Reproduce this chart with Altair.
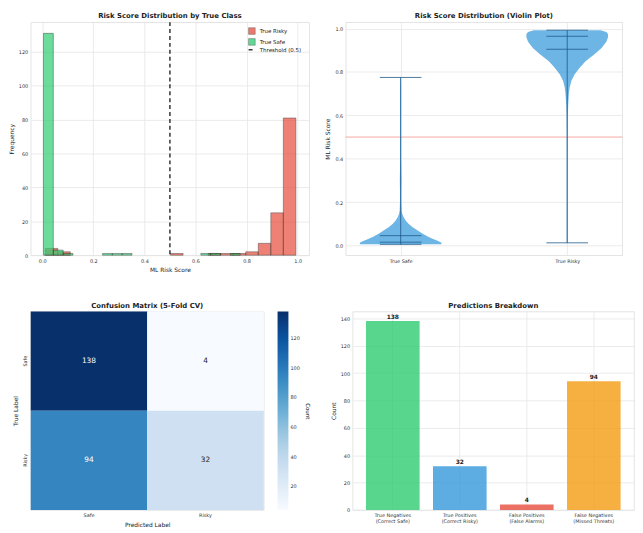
import altair as alt
import numpy as np
import pandas as pd

FONT = "DejaVu Sans"

# ---------------- Panel 1: histogram by true class ----------------
hist_classes = ["True Risky", "True Safe"]
safe_min, safe_max = 0.005, 0.775
risky_min, risky_max = 0.012, 0.993
n_bins = 20
safe_counts = [131, 3, 1, 0, 0, 0, 1, 1, 1, 0, 0, 0, 0, 0, 0, 0, 1, 1, 0, 1]
risky_counts = [4, 2, 0, 0, 0, 0, 0, 0, 0, 0, 1, 0, 0, 1, 1, 1, 2, 7, 25, 81]
threshold = 0.5
threshold_label = "Threshold (0.5)"

rows = []
for cls, lo, hi, counts in [("True Risky", risky_min, risky_max, risky_counts),
                            ("True Safe", safe_min, safe_max, safe_counts)]:
    edges = np.linspace(lo, hi, n_bins + 1)
    for i, c in enumerate(counts):
        if c > 0:
            rows.append({"cls": cls, "lo": edges[i], "hi": edges[i + 1], "count": c})
hist_df = pd.DataFrame(rows)
thr_df = pd.DataFrame({"x": [threshold], "cls": [threshold_label]})

H_W, H_H = 282, 236
hx = alt.Scale(domain=[-0.045, 1.045], nice=False, zero=False)
hy = alt.Scale(domain=[0, 137.6], nice=False)
hx_axis = alt.Axis(values=[0, 0.2, 0.4, 0.6, 0.8, 1.0], format=".1f")
leg_common = dict(title=None, orient="none", padding=2, labelFontSize=5.5, symbolSize=45,
                  labelColor="#222", legendX=H_W - 64)
bars = alt.Chart(hist_df).mark_bar(opacity=0.7, stroke="black", strokeWidth=0.5).encode(
    x=alt.X("lo:Q", scale=hx, title="ML Risk Score", axis=hx_axis),
    x2="hi:Q",
    y=alt.Y("count:Q", scale=hy, title="Frequency",
            axis=alt.Axis(values=[0, 20, 40, 60, 80, 100, 120])),
    y2=alt.datum(0),
    color=alt.Color("cls:N", scale=alt.Scale(domain=hist_classes, range=["#e74c3c", "#2ecc71"]),
                    legend=alt.Legend(symbolType="square", symbolStrokeColor="#333333",
                                      symbolStrokeWidth=0.5, symbolOpacity=0.75,
                                      rowPadding=1, legendY=3, **leg_common)),
)
thr_rule = alt.Chart(thr_df).mark_rule(color="black", strokeWidth=1.2).encode(
    x=alt.X("x:Q", scale=hx, title="ML Risk Score", axis=hx_axis),
    strokeDash=alt.StrokeDash("cls:N", scale=alt.Scale(domain=[threshold_label], range=[[4, 3]]),
                              legend=alt.Legend(symbolType="stroke", symbolStrokeColor="black",
                                                symbolStrokeWidth=1.2, legendY=22,
                                                **leg_common)),
)
hist = alt.layer(bars, thr_rule).properties(
    width=H_W, height=H_H, title="Risk Score Distribution by True Class")

# ---------------- Panel 2: violin plot ----------------
violin_classes = ["True Safe", "True Risky"]
safe_score = [0.005, 0.012, 0.02, 0.03, 0.04, 0.055, 0.07, 0.085, 0.1, 0.115, 0.13,
              0.145, 0.16, 0.2, 0.25, 0.3, 0.35, 0.4, 0.5, 0.6, 0.7, 0.775]
safe_half = [0.245, 0.245, 0.225, 0.195, 0.165, 0.13, 0.1, 0.07, 0.047, 0.03, 0.018,
             0.01, 0.006, 0.004, 0.004, 0.005, 0.004, 0.003, 0.003, 0.003, 0.003, 0.002]
risky_score = [0.012, 0.1, 0.2, 0.3, 0.4, 0.5, 0.6, 0.65, 0.7, 0.73, 0.76, 0.79, 0.82,
               0.85, 0.88, 0.91, 0.94, 0.96, 0.975, 0.985, 0.993]
risky_half = [0.003, 0.003, 0.003, 0.003, 0.003, 0.003, 0.004, 0.006, 0.01, 0.015, 0.025,
              0.045, 0.075, 0.11, 0.16, 0.205, 0.235, 0.245, 0.245, 0.235, 0.2]
violin_min = [0.005, 0.012]
violin_max = [0.775, 0.993]
violin_median = [0.015, 0.965]
violin_mean = [0.045, 0.905]
stat_half = 0.125

span_df = pd.DataFrame({"idx": [0, 1], "mn": violin_min, "mx": violin_max})
srows = []
for idx in range(2):
    for v in (violin_min[idx], violin_max[idx], violin_median[idx], violin_mean[idx]):
        srows.append({"v": v, "lo": idx - stat_half, "hi": idx + stat_half})
stat_df = pd.DataFrame(srows)

vx = alt.Scale(domain=[-0.33, 1.33], nice=False, zero=False)
vy = alt.Scale(domain=[-0.045, 1.03], nice=False, zero=False)
vx_axis = alt.Axis(values=[0, 1],
                   labelExpr="datum.value == 0 ? 'True Safe' : 'True Risky'")
vy_axis = alt.Axis(values=[0, 0.2, 0.4, 0.6, 0.8, 1.0], format=".1f")
VY_T = "ML Risk Score"

bodies = []
for idx, (sc, hw) in enumerate([(safe_score, safe_half), (risky_score, risky_half)]):
    d = pd.DataFrame({"score": sc, "lo": [idx - w for w in hw], "hi": [idx + w for w in hw]})
    bodies.append(
        alt.Chart(d).mark_area(orient="horizontal", color="#3498db", opacity=0.72).encode(
            y=alt.Y("score:Q", scale=vy, axis=vy_axis, title=VY_T),
            x=alt.X("lo:Q", scale=vx, axis=vx_axis, title=None),
            x2="hi:Q",
        ))
vline = alt.Chart(span_df).mark_rule(color="#1f5a8a", strokeWidth=0.8).encode(
    x=alt.X("idx:Q", scale=vx, axis=vx_axis, title=None),
    y=alt.Y("mn:Q", scale=vy, axis=vy_axis, title=VY_T), y2="mx:Q")
hline = alt.Chart(stat_df).mark_rule(color="#1f5a8a", strokeWidth=0.8).encode(
    x=alt.X("lo:Q", scale=vx, axis=vx_axis, title=None), x2="hi:Q",
    y=alt.Y("v:Q", scale=vy, axis=vy_axis, title=VY_T))
vthr = alt.Chart(thr_df).mark_rule(color="#e74c3c", opacity=0.6, strokeWidth=0.8).encode(
    y=alt.Y("x:Q", scale=vy, axis=vy_axis, title=VY_T))
violin = alt.layer(*bodies, vthr, vline, hline).properties(
    width=280, height=H_H, title="Risk Score Distribution (Violin Plot)")

# ---------------- Panel 3: confusion matrix ----------------
cm_labels = ["Safe", "Risky"]
cm_true = ["Safe", "Safe", "Risky", "Risky"]
cm_pred = ["Safe", "Risky", "Safe", "Risky"]
cm_count = [138, 4, 94, 32]
cm_df = pd.DataFrame({"true": cm_true, "pred": cm_pred, "count": cm_count})
blues = ["#f7fbff", "#deebf7", "#c6dbef", "#9ecae1", "#6baed6",
         "#4292c6", "#2171b5", "#08519c", "#08306b"]
cmin, cmax = min(cm_count), max(cm_count)
cm_domain = list(np.linspace(cmin, cmax, len(blues)))
B_H = 201
cm_x = alt.X("pred:N", sort=cm_labels, title="Predicted Label",
             axis=alt.Axis(labelAngle=0, grid=False))
cm_y = alt.Y("true:N", sort=cm_labels, title="True Label",
             axis=alt.Axis(labelAngle=270, grid=False))
cm_rect = alt.Chart(cm_df).mark_rect().encode(
    x=cm_x, y=cm_y,
    color=alt.Color("count:Q", scale=alt.Scale(domain=cm_domain, range=blues),
                    legend=alt.Legend(title="Count", orient="right", gradientLength=B_H,
                                      gradientThickness=11, values=[20, 40, 60, 80, 100, 120],
                                      titleOrient="right", offset=14, labelFontSize=5,
                                      titleFontSize=5.5, titleFontWeight="normal",
                                      gradientStrokeWidth=0, labelColor="#333")),
)
cm_text = alt.Chart(cm_df).mark_text(fontSize=7.5).encode(
    x=cm_x, y=cm_y,
    text="count:Q",
    color=alt.condition(alt.datum.count > 70, alt.value("white"), alt.value("#262626")),
)
cm = alt.layer(cm_rect, cm_text).properties(
    width=236, height=B_H, title="Confusion Matrix (5-Fold CV)")

# ---------------- Panel 4: predictions breakdown ----------------
pb_labels = ["True Negatives\n(Correct Safe)", "True Positives\n(Correct Risky)",
             "False Positives\n(False Alarms)", "False Negatives\n(Missed Threats)"]
pb_values = [138, 32, 4, 94]
pb_colors = ["#2ecc71", "#3498db", "#e74c3c", "#f39c12"]
pb_df = pd.DataFrame({"label": pb_labels, "value": pb_values})
pb_x = alt.X("label:N", sort=pb_labels, title=None,
             scale=alt.Scale(paddingInner=0.2, paddingOuter=0.2),
             axis=alt.Axis(labelAngle=0, labelExpr="split(datum.label, '\\n')",
                           labelFontSize=5, labelLineHeight=6, bandPosition=0.5, grid=True))
pb_y = alt.Y("value:Q", scale=alt.Scale(domain=[0, 145], nice=False), title="Count",
             axis=alt.Axis(values=[0, 20, 40, 60, 80, 100, 120, 140]))
pb_bars = alt.Chart(pb_df).mark_bar(opacity=0.8).encode(
    x=pb_x, y=pb_y,
    color=alt.Color("label:N", scale=alt.Scale(domain=pb_labels, range=pb_colors), legend=None),
)
pb_text = alt.Chart(pb_df).mark_text(fontSize=6, fontWeight="bold", dy=-4, color="#222").encode(
    x=pb_x, y=pb_y, text="value:Q")
pb = alt.layer(pb_bars, pb_text).properties(
    width=285, height=B_H, title="Predictions Breakdown")

row1 = alt.hconcat(hist, violin, spacing=14).resolve_scale(
    color="independent", strokeDash="independent").resolve_legend(
    color="independent", strokeDash="independent")
row2 = alt.hconcat(cm, pb, spacing=19).resolve_scale(color="independent")
chart = alt.vconcat(row1, row2, spacing=27).resolve_scale(
    color="independent", strokeDash="independent").resolve_legend(
    color="independent", strokeDash="independent").properties(
    padding=0
).configure(font=FONT).configure_view(stroke="#dddddd", strokeWidth=0.8).configure_axis(
    domain=False, ticks=False, labelFontSize=5, labelColor="#333333", labelPadding=3,
    titleFontSize=6, titleFontWeight="normal", titleColor="#222222", titlePadding=4,
    gridColor="#e6e6e6", gridWidth=0.8,
).configure_title(fontSize=7, fontWeight="bold", color="#222222", offset=3)

chart.save("out.html", embed_options={"renderer": "svg", "actions": False})
